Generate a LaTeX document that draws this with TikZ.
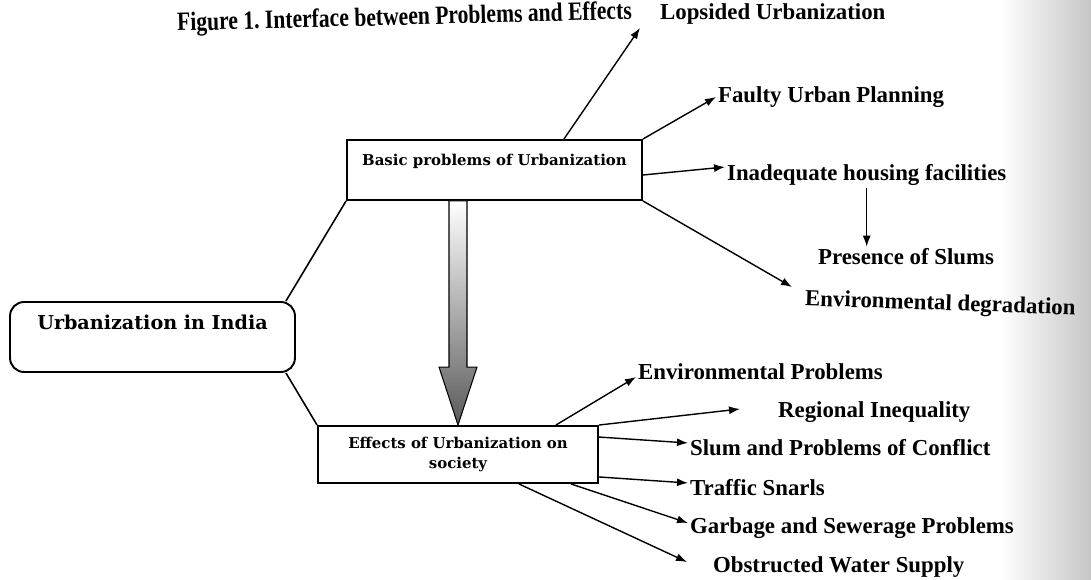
\documentclass[tikz,border=0pt]{standalone}
\usepackage{fontspec}
\setmainfont{Liberation Serif}
\newfontfamily\boxfont{DejaVu Serif}
\usetikzlibrary{arrows.meta}
\frenchspacing
\tikzset{
  box/.style={draw, line width=1.1pt, inner sep=0pt},
  lbl/.style={anchor=west, inner sep=1pt, font=\bfseries\fontsize{13}{15}\selectfont},
  link/.style={line width=0.8pt, -{Latex[length=2.2mm,width=1.6mm]}},
}

\begin{document}
\begin{tikzpicture}[x=0.02cm, y=-0.02cm]
  \useasboundingbox (0,0) rectangle (1091,580);
  % scan shading at the right edge
  \shade[left color=white, right color=gray!45] (1000,0) rectangle (1091,580);

  % Title
  \node[anchor=base west, rotate=1.5, inner sep=0pt, font=\bfseries\fontsize{15}{17}\selectfont] (title) at (177,31)
    {\scalebox{0.82}[1]{Figure 1. Interface between Problems and Effects}};

  % Boxes
  \node[box, rounded corners=8pt, minimum width=5.7cm, text height=0.56cm, text depth=0.84cm,
        font=\boxfont\bfseries\fontsize{10.9}{12}\selectfont] (india) at (152.5,337) {Urbanization in India};
  \node[box, minimum width=5.9cm, text height=0.52cm, text depth=0.68cm,
        font=\boxfont\bfseries\fontsize{8.5}{10}\selectfont] (basic) at (494.5,170) {Basic problems of Urbanization};
  \node[box, minimum width=5.6cm, minimum height=1.14cm, align=center,
        font=\boxfont\bfseries\fontsize{8.5}{11.4}\selectfont] (effects) at (458,454.5) {Effects of Urbanization on\\society};

  % Problems
  \node[lbl] (lops) at (658,14) {Lopsided Urbanization};
  \node[lbl] (faulty) at (716,97) {Faulty Urban Planning};
  \node[lbl] (inadeq) at (725,175) {Inadequate housing facilities};
  \node[lbl] (slums) at (816,257) {Presence of Slums};
  \node[lbl, rotate=-2] (envdeg) at (803,300) {Environmental degradation};

  % Effects
  \node[lbl] (envprob) at (636,372) {Environmental Problems};
  \node[lbl] (regional) at (776,412) {Regional Inequality};
  \node[lbl] (slum) at (688,448) {Slum and Problems of Conflict};
  \node[lbl] (traffic) at (688,488) {Traffic Snarls};
  \node[lbl] (garbage) at (688,528) {Garbage and Sewerage Problems};
  \node[lbl] (water) at (711,567) {Obstructed Water Supply};

  % Links from the main box
  \draw[line width=0.9pt] ([xshift=-0.2cm]india.north east) -- (basic.south west);
  \draw[line width=0.9pt] ([xshift=-0.2cm]india.south east) -- (effects.north west);

  % Big arrow
  \coordinate (top) at (effects.north |- basic.south);
  \coordinate (tip) at (effects.north);
  \shade[top color=white, bottom color=gray!70!black, draw=black, line width=0.6pt]
    ([xshift=-0.18cm]top) -- ([xshift=0.18cm]top) -- ([shift={(0.18cm,1.16cm)}]tip)
    -- ([shift={(0.38cm,1.16cm)}]tip) -- (tip) -- ([shift={(-0.38cm,1.16cm)}]tip)
    -- ([shift={(-0.18cm,1.16cm)}]tip) -- cycle;

  \draw[link] ([xshift=-1.58cm]basic.north east) -- ([shift={(-0.36cm,-0.28cm)}]lops.west);
  \draw[link] (basic.north east) -- (faulty.west);
  \draw[link] ([yshift=-0.1cm]basic.east) -- ([yshift=0.16cm]inadeq.west);
  \draw[link] (inadeq.south) -- (inadeq.south |- slums.north);
  \draw[link] (basic.south east) -- ([shift={(-0.22cm,0.26cm)}]envdeg.west);

  \draw[link] ([xshift=-0.86cm]effects.north east) -- ([yshift=-0.1cm]envprob.west);
  \draw[link] (effects.north east) -- ([shift={(-0.72cm,0.06cm)}]regional.west);
  \draw[link] ([yshift=-0.24cm]effects.north east) -- ([yshift=0.1cm]slum.west);
  \draw[link] ([yshift=0.14cm]effects.south east) -- ([yshift=0.1cm]traffic.west);
  \draw[link] ([xshift=-0.56cm]effects.south east) -- ([yshift=0.1cm]garbage.west);
  \draw[link] ([xshift=-1.6cm]effects.south east) -- ([shift={(-0.48cm,0.1cm)}]water.west);
\end{tikzpicture}
\end{document}
